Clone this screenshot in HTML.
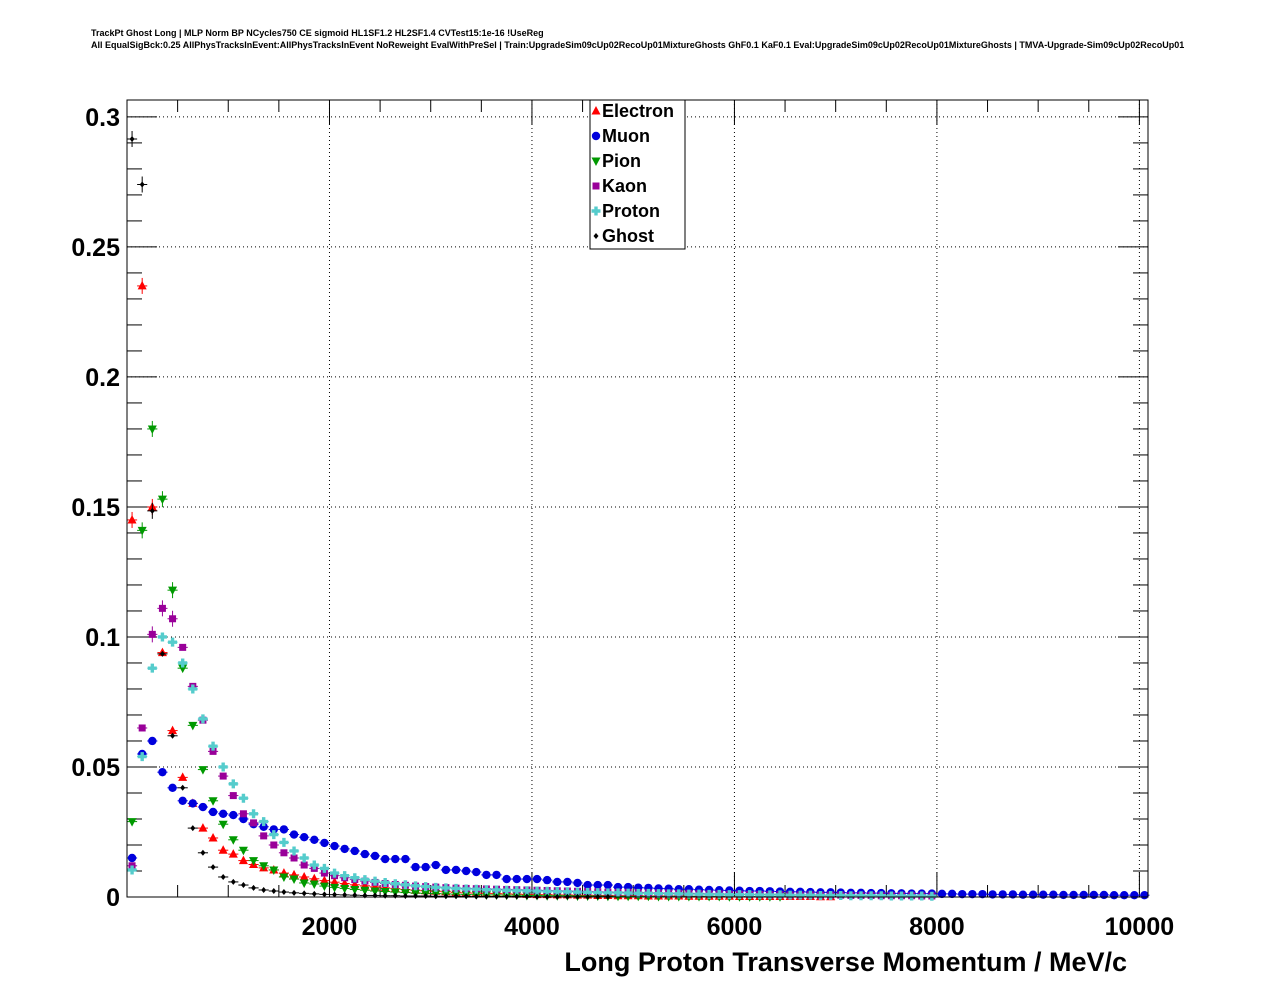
<!DOCTYPE html>
<html><head><meta charset="utf-8"><style>
body{margin:0;background:#fff;}
svg text{font-family:"Liberation Sans",sans-serif;font-weight:bold;}
</style></head><body>
<svg id="chart" width="1276" height="996" xmlns="http://www.w3.org/2000/svg">
<rect width="1276" height="996" fill="#fff"/>
<text x="91" y="36" font-size="9">TrackPt Ghost Long | MLP Norm BP NCycles750 CE sigmoid HL1SF1.2 HL2SF1.4 CVTest15:1e-16 !UseReg</text>
<text x="91" y="48" font-size="9">All EqualSigBck:0.25 AllPhysTracksInEvent:AllPhysTracksInEvent NoReweight EvalWithPreSel | Train:UpgradeSim09cUp02RecoUp01MixtureGhosts GhF0.1 KaF0.1 Eval:UpgradeSim09cUp02RecoUp01MixtureGhosts | TMVA-Upgrade-Sim09cUp02RecoUp01</text>
<g id="grid"></g>
<g id="axes"></g>
<g id="marks"></g>
<rect x="127" y="100" width="1021" height="797" fill="none" stroke="#000" stroke-width="1"/>
<g id="legend"></g>
<text x="1127" y="971" font-size="27" text-anchor="end">Long Proton Transverse Momentum / MeV/c</text>
</svg>
<script>
const binWidth = 100;
const xTicks = [2000, 4000, 6000, 8000, 10000];
const yTicks = [0, 0.05, 0.1, 0.15, 0.2, 0.25, 0.3];
const yTickLabels = ["0", "0.05", "0.1", "0.15", "0.2", "0.25", "0.3"];
const seriesNames = ["Electron", "Muon", "Pion", "Kaon", "Proton", "Ghost"];
const electron = [0.145,0.235,0.150,0.094,0.064,0.046,0.036,0.0265,0.0227,0.018,0.0165,0.014,0.0125,0.0112,0.0104,0.0092,0.0085,0.0077,0.0070,0.0063,0.0057,0.0052,0.0047,0.0043,0.0039,0.0035,0.0032,0.0029,0.0026,0.0024,0.0022,0.0020,0.0018,0.0016,0.0015,0.0014,0.0013,0.0012,0.0011,0.0010,0.0009,0.0009,0.0008,0.0008,0.0007,0.0007,0.0006,0.0006,0.0005,0.0005,0.0005,0.0004,0.0004,0.0004,0.0004,0.0003,0.0003,0.0003,0.0003,0.0003,0.0002,0.0002,0.0002,0.0002,0.0002,0.0002,0.0002,0.0002,0.0001,0.0001];
const muon = [0.015,0.055,0.060,0.048,0.042,0.037,0.036,0.0346,0.0327,0.032,0.0315,0.030,0.028,0.027,0.026,0.026,0.024,0.023,0.022,0.0208,0.0196,0.0185,0.0177,0.0165,0.0158,0.0146,0.0146,0.0146,0.0115,0.0115,0.0123,0.0104,0.0104,0.010,0.0096,0.0085,0.0085,0.0069,0.0069,0.0069,0.0069,0.0065,0.0058,0.0058,0.0054,0.0046,0.0046,0.0046,0.0038,0.0038,0.0036,0.0035,0.0033,0.0032,0.0030,0.0030,0.0028,0.0027,0.0026,0.0025,0.0024,0.0023,0.0023,0.0022,0.0021,0.0020,0.0020,0.0019,0.0018,0.0018,0.0017,0.0016,0.0016,0.0015,0.0015,0.0014,0.0014,0.0013,0.0013,0.0013,0.0012,0.0012,0.0011,0.0011,0.0011,0.0010,0.0010,0.0010,0.0009,0.0009,0.0009,0.0009,0.0008,0.0008,0.0008,0.0008,0.0008,0.0007,0.0007,0.0007,0.0007];
const pion = [0.029,0.141,0.180,0.153,0.118,0.088,0.066,0.049,0.037,0.028,0.022,0.018,0.014,0.012,0.0104,0.0077,0.0069,0.0054,0.0050,0.0042,0.0037,0.0033,0.0029,0.0026,0.0023,0.0021,0.0019,0.0017,0.0015,0.0014,0.0013,0.0012,0.0011,0.0010,0.0009,0.0008,0.0008,0.0007,0.0007,0.0006,0.0006,0.0005,0.0005,0.0005,0.0004,0.0004,0.0004,0.0003,0.0003,0.0003,0.0003,0.0003,0.0002,0.0002,0.0002,0.0002,0.0002,0.0002,0.0002,0.0001,0.0001,0.0001,0.0001,0.0001,0.0001];
const kaon = [0.012,0.065,0.101,0.111,0.107,0.096,0.081,0.068,0.056,0.0465,0.039,0.032,0.0285,0.0235,0.020,0.017,0.015,0.0123,0.011,0.0092,0.0082,0.0074,0.0067,0.0061,0.0056,0.0052,0.0048,0.0045,0.0042,0.0040,0.0038,0.0036,0.0034,0.0033,0.0032,0.0031,0.0030,0.0029,0.0028,0.0027,0.0026,0.0025,0.0024,0.0023,0.0022,0.0021,0.0020,0.0019,0.0018,0.0018,0.0017,0.0016,0.0015,0.0015,0.0014,0.0014,0.0013,0.0012,0.0012,0.0011,0.0011,0.0010,0.0010,0.0009,0.0009,0.0008,0.0008,0.0008,0.0007,0.0007,0.0007,0.0006,0.0006,0.0006,0.0005,0.0005,0.0005,0.0005,0.0004,0.0004];
const proton = [0.0104,0.054,0.088,0.100,0.098,0.090,0.080,0.0685,0.058,0.050,0.0435,0.038,0.032,0.029,0.024,0.021,0.0177,0.015,0.0123,0.011,0.0092,0.0082,0.0074,0.0067,0.0061,0.0056,0.0051,0.0047,0.0043,0.0040,0.0037,0.0035,0.0033,0.0031,0.0030,0.0028,0.0027,0.0026,0.0025,0.0024,0.0023,0.0022,0.0021,0.0020,0.0019,0.0018,0.0017,0.0016,0.0016,0.0015,0.0014,0.0014,0.0013,0.0012,0.0012,0.0011,0.0011,0.0010,0.0010,0.0009,0.0009,0.0009,0.0008,0.0008,0.0008,0.0007,0.0007,0.0007,0.0006,0.0006,0.0006,0.0005,0.0005,0.0005,0.0005,0.0004,0.0004,0.0004,0.0004,0.0003];
const ghost = [0.2915,0.274,0.1485,0.0935,0.062,0.042,0.0265,0.017,0.0115,0.0077,0.0058,0.0046,0.0035,0.0027,0.0023,0.0019,0.0016,0.0014,0.0012,0.0010,0.0009,0.0008,0.0007,0.0006,0.0006,0.0005,0.0005,0.0004,0.0004,0.0004,0.0003,0.0003,0.0003,0.0003,0.0002,0.0002,0.0002,0.0002,0.0002,0.0002,0.0001,0.0001,0.0001,0.0001,0.0001,0.0001,0.0001,0.0001];

const NS = "http://www.w3.org/2000/svg";
const X0 = 127, X1 = 1148, Y0 = 897, Y1 = 100;
const xMax = 10085, yMax = 0.3065;
function xs(v){ return X0 + v / xMax * (X1 - X0); }
function ys(v){ return Y0 - v / yMax * (Y0 - Y1); }
function mk(tag, attrs, parent){ const e = document.createElementNS(NS, tag); for (const k in attrs) e.setAttribute(k, attrs[k]); parent.appendChild(e); return e; }

const grid = document.getElementById('grid');
const axes = document.getElementById('axes');
const marks = document.getElementById('marks');
const legend = document.getElementById('legend');

xTicks.forEach(t => {
  const l = mk('line', {x1: xs(t), x2: xs(t), y1: Y1, y2: Y0, stroke: '#000', 'stroke-dasharray': '1,3', 'stroke-width': 1}, grid);
  
  
  const lab = mk('text', {x: xs(t), y: 935, 'font-size': 25, 'text-anchor': 'middle'}, axes);
  lab.textContent = String(t);
  
  
});
for (let v = 0; v <= 10000; v += 500) {
  const major = v % 2000 === 0;
  const len = major ? 25 : 12;
  mk('line', {x1: xs(v), x2: xs(v), y1: Y0, y2: Y0 - len, stroke: '#000'}, axes);
  mk('line', {x1: xs(v), x2: xs(v), y1: Y1, y2: Y1 + len, stroke: '#000'}, axes);
}
yTicks.forEach((t, i) => {
  if (t > 0) {
    const l = mk('line', {x1: X0, x2: X1, y1: ys(t), y2: ys(t), stroke: '#000', 'stroke-dasharray': '1,3', 'stroke-width': 1}, grid);
    
    
  }
  const lab = mk('text', {x: 120, y: ys(t) + 9, 'font-size': 25, 'text-anchor': 'end'}, axes);
  lab.textContent = yTickLabels[i];
  
  
});
for (let k = 0; k <= 30; k++) {
  const v = k * 0.01;
  const major = k % 5 === 0;
  const len = major ? 30 : 15;
  mk('line', {x1: X0, x2: X0 + len, y1: ys(v), y2: ys(v), stroke: '#000'}, axes);
  mk('line', {x1: X1, x2: X1 - len, y1: ys(v), y2: ys(v), stroke: '#000'}, axes);
}

const colors = ['#ff0000', '#0000dd', '#009900', '#990099', '#55cccc', '#000000'];
const data = [electron, muon, pion, kaon, proton, ghost];

function marker(type, cx, cy, color, parent) {
  let e;
  if (type === 0) e = mk('polygon', {points: `${cx},${cy-5} ${cx-4.5},${cy+3.5} ${cx+4.5},${cy+3.5}`, fill: color}, parent);
  else if (type === 1) e = mk('circle', {cx: cx, cy: cy, r: 4.2, fill: color}, parent);
  else if (type === 2) e = mk('polygon', {points: `${cx},${cy+5} ${cx-4.5},${cy-3.5} ${cx+4.5},${cy-3.5}`, fill: color}, parent);
  else if (type === 3) e = mk('rect', {x: cx-3.5, y: cy-3.5, width: 7, height: 7, fill: color}, parent);
  else if (type === 4) e = mk('path', {d: `M${cx-1.7},${cy-4.5}h3.4v2.8h2.8v3.4h-2.8v2.8h-3.4v-2.8h-2.8v-3.4h2.8z`, fill: color}, parent);
  else e = mk('polygon', {points: `${cx},${cy-3} ${cx-2.5},${cy} ${cx},${cy+3} ${cx+2.5},${cy}`, fill: color}, parent);
  return e;
}

data.forEach((arr, s) => {
  const g = mk('g', {}, marks);
  
  
  arr.forEach((v, i) => {
    const cx = xs((i + 0.5) * binWidth), cy = ys(v);
    mk('line', {x1: xs(i * binWidth), x2: xs((i + 1) * binWidth), y1: cy, y2: cy, stroke: colors[s], 'stroke-width': 1}, g);
    if (v > 0.1) mk('line', {x1: cx, x2: cx, y1: cy - 8, y2: cy + 8, stroke: colors[s], 'stroke-width': 1}, g);
    const m = marker(s, cx, cy, colors[s], g);
    
    
  });
});

const lb = mk('rect', {x: 590, y: 100, width: 95, height: 149, fill: '#fff', stroke: '#000', 'stroke-width': 1}, legend);


seriesNames.forEach((n, s) => {
  const yy = 111 + s * 25;
  const m = marker(s, 596, yy, colors[s], legend);
  
  
  const t = mk('text', {x: 602, y: yy + 6, 'font-size': 18}, legend);
  t.textContent = n;
  
  
});
</script>
</body></html>
